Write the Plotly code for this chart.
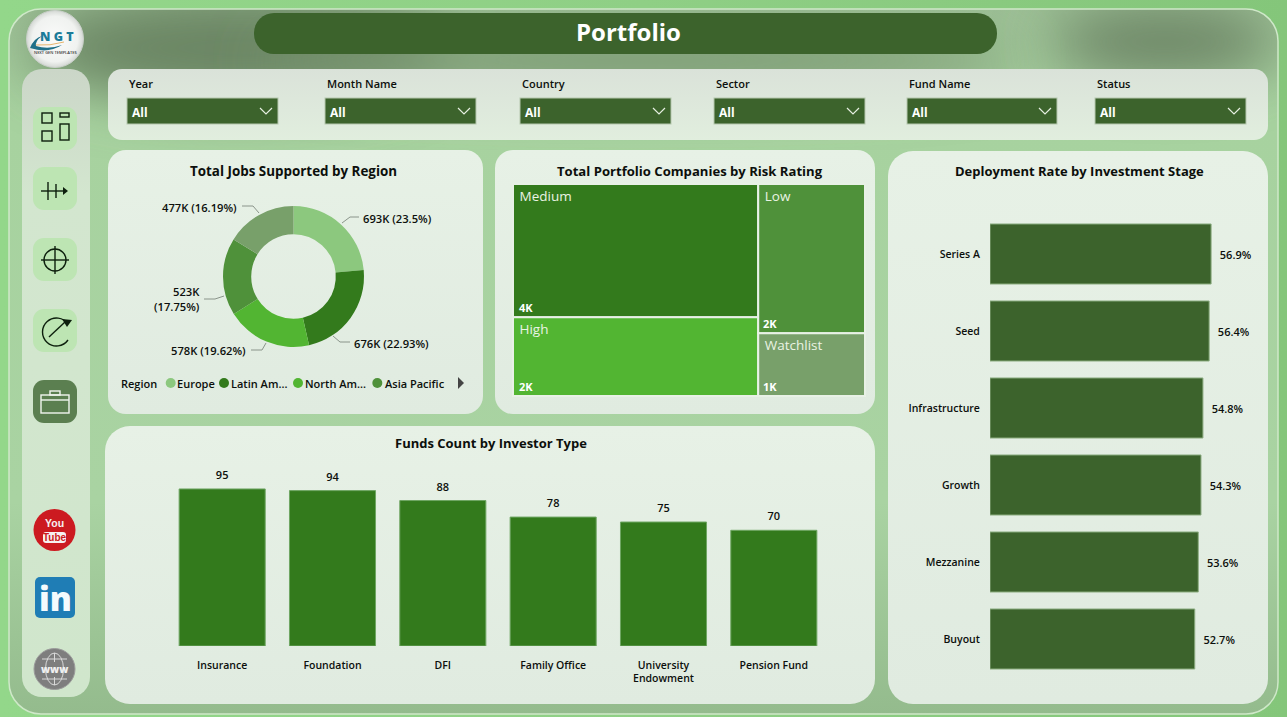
import base64
import plotly.graph_objects as go

# ---- dashboard data ----
regions = ["Europe", "Latin America", "North America", "Asia Pacific", "Middle East"]
jobs_k = [693, 676, 578, 523, 477]
jobs_share = ["23.5", "22.93", "19.62", "17.75", "16.19"]
region_colors = ["#8CC87E", "#337A1C", "#52B532", "#4F913A", "#78A06A"]

risk_ratings = ["Medium", "High", "Low", "Watchlist"]
risk_companies = [3900, 2300, 1900, 800]
risk_colors = ["#337A1C", "#52B532", "#4F913A", "#78A06A"]

investor_types = ["Insurance", "Foundation", "DFI", "Family Office", "University<br>Endowment", "Pension Fund"]
funds_count = [95, 94, 88, 78, 75, 70]

stages = ["Series A", "Seed", "Infrastructure", "Growth", "Mezzanine", "Buyout"]
deployment_rate = [56.9, 56.4, 54.8, 54.3, 53.6, 52.7]

filter_names = ["Year", "Month Name", "Country", "Sector", "Fund Name", "Status"]
filter_left = [127, 325, 520, 714, 907, 1095]
filter_right = [278, 476, 671, 865, 1057, 1246]

W, H = 1287, 717
FONT = "Open Sans"
INK = "#0c0f0c"
DARK = "#3C632C"
GREEN = "#337A1C"


def px(x):
    return x / W


def py(y):
    return 1 - y / H


def rrect(x0, y0, x1, y1, r, fill, extra=""):
    return f'<rect x="{x0}" y="{y0}" width="{x1-x0}" height="{y1-y0}" rx="{r}" ry="{r}" fill="{fill}" {extra}/>'


# ---- page backdrop, cards and sidebar glyphs ----
svg = [f'<svg xmlns="http://www.w3.org/2000/svg" width="{W}" height="{H}" viewBox="0 0 {W} {H}">']
svg.append('''<defs>
<linearGradient id="page" x1="0" y1="0" x2="1" y2="0"><stop offset="0" stop-color="#93D78A"/><stop offset="0.5" stop-color="#8FCF85"/><stop offset="1" stop-color="#84C67A"/></linearGradient>
<linearGradient id="inner" x1="0" y1="0" x2="0" y2="1"><stop offset="0" stop-color="#9DC096"/><stop offset="0.16" stop-color="#A7D29F"/><stop offset="0.7" stop-color="#A9D3A2"/><stop offset="1" stop-color="#94BB8D"/></linearGradient>
<linearGradient id="side" x1="0" y1="0" x2="0" y2="1"><stop offset="0" stop-color="#CBD6C8"/><stop offset="0.2" stop-color="#D3E6CF"/><stop offset="1" stop-color="#D0E6CC"/></linearGradient>
<linearGradient id="filt" x1="0" y1="0" x2="0" y2="1"><stop offset="0" stop-color="#DAE2D9"/><stop offset="1" stop-color="#E1EEDE"/></linearGradient>
<linearGradient id="card" x1="0" y1="0" x2="0" y2="1"><stop offset="0" stop-color="#E7F1E6"/><stop offset="1" stop-color="#E0EBE0"/></linearGradient>
<radialGradient id="logo" cx="0.5" cy="0.5" r="0.5"><stop offset="0" stop-color="#FAFBFA"/><stop offset="0.8" stop-color="#F0F2F0"/><stop offset="1" stop-color="#D4D8D4"/></radialGradient>
<filter id="soft" x="-50%" y="-100%" width="200%" height="300%"><feGaussianBlur stdDeviation="28"/></filter>
<clipPath id="frame"><rect x="9" y="9" width="1269" height="705" rx="32" ry="32"/></clipPath>
</defs>''')
svg.append(rrect(0, 0, W, H, 0, "url(#page)"))
svg.append(rrect(9, 9, 1278, 714, 32, "url(#inner)"))
svg.append('<g clip-path="url(#frame)">'
           '<ellipse cx="240" cy="48" rx="210" ry="55" fill="#6A8563" filter="url(#soft)"/>'
           '<ellipse cx="640" cy="60" rx="380" ry="30" fill="#7A9772" filter="url(#soft)"/>'
           '<ellipse cx="1165" cy="42" rx="115" ry="36" fill="#6C8465" filter="url(#soft)"/>'
           '</g>')
svg.append(rrect(9, 9, 1278, 714, 32, "none", 'stroke="#CFE8C9" stroke-width="1.5"'))
svg.append(rrect(22, 69, 90, 697, 20, "url(#side)"))
svg.append(rrect(108, 69, 1268, 140, 14, "url(#filt)"))
svg.append(rrect(108, 150, 483, 414, 18, "url(#card)"))
svg.append(rrect(495, 150, 875, 414, 18, "url(#card)"))
svg.append(rrect(105, 426, 875, 704, 25, "url(#card)"))
svg.append(rrect(888, 151, 1268, 704, 25, "url(#card)"))
svg.append(rrect(254, 13, 997, 54, 20, DARK))

# filter dropdown boxes with their chevrons
for x0, x1 in zip(filter_left, filter_right):
    svg.append(rrect(x0, 98, x1, 124, 0, DARK, 'stroke="#B5C7AE" stroke-width="1"'))
    svg.append(f'<path d="M{x1-18} 108 l6 6 l6 -6" fill="none" stroke="#E6EFE1" stroke-width="1.2"/>')

# donut leader lines
leaders = ["M342 223 L350 217 L359 217", "M333 336 L340 342 L350 342", "M266 343 L262 350 L251 350",
           "M224 296 L215 299 L204 299", "M259 213 L253 206 L242 206"]
for d in leaders:
    svg.append(f'<path d="{d}" fill="none" stroke="#8A948A" stroke-width="1"/>')

# region legend dots and paging arrow
for cx, colour in zip([170.7, 224, 298, 377.3], region_colors):
    svg.append(f'<circle cx="{cx}" cy="383" r="5" fill="{colour}"/>')
svg.append('<path d="M458 377 L464 383 L458 389 Z" fill="#444"/>')

# sidebar tiles
for i, y in enumerate([107, 167, 238, 309, 380]):
    svg.append(rrect(33, y, 77, y + 43, 11, "#5B7F50" if i == 4 else "#BDE5B3"))
ic = 'fill="none" stroke="#0D1F0D" stroke-width="1.4"'
svg.append(f'<g {ic}><rect x="42" y="113" width="10" height="10"/><rect x="42" y="131" width="10" height="10"/>'
           '<rect x="60" y="113" width="9" height="4"/><rect x="60" y="124" width="9" height="16"/></g>')
svg.append(f'<g {ic}><path d="M41 191 H65"/><path d="M48 182 V200"/><path d="M56 184 V198"/></g>'
           '<path d="M63 187 L68 191 L63 195 Z" fill="#0D1F0D"/>')
svg.append(f'<g {ic}><circle cx="55" cy="260" r="11"/><path d="M41 260 H69"/><path d="M55 246 V274"/></g>')
svg.append(f'<g {ic}><path d="M68 324 A14 14 0 1 0 68 340"/><path d="M49 337 L65 322"/></g>'
           '<path d="M62 319 L72 320 L67 327 Z" fill="#0D1F0D"/>')
svg.append('<g fill="none" stroke="#F1F6EF" stroke-width="1.4"><rect x="41" y="395" width="28" height="18"/>'
           '<path d="M41 400 H69"/><rect x="50" y="391" width="10" height="4"/></g>')

# logo disc and swoosh
svg.append('<circle cx="55" cy="39" r="28.5" fill="url(#logo)" stroke="#C8CFC8" stroke-width="1"/>')
svg.append('<path d="M30 48 Q34 38 42 36 Q35 41 36 46 Q48 50 62 45 Q48 54 30 48 Z" fill="#1F6F88"/>')
svg.append('<path d="M36 45 Q50 46 64 42" fill="none" stroke="#E2A24A" stroke-width="0.8"/>')

# social badges
svg.append('<circle cx="54.5" cy="530" r="21" fill="#CC1A20"/>')
svg.append(rrect(43, 532, 66, 543, 3, "#F6F0F0"))
svg.append(rrect(35, 577, 75, 618, 5, "#1F7DB5"))
svg.append('<circle cx="54.5" cy="669" r="20.5" fill="#7E7E7E" stroke="#9B9B9B" stroke-width="1"/>')
svg.append('<g fill="none" stroke="#D9D9D9" stroke-width="1"><ellipse cx="54.5" cy="669" rx="9" ry="16"/>'
           '<path d="M54.5 653 V662"/><path d="M54.5 677 V685"/><path d="M42 659 H67"/><path d="M42 679 H67"/></g>')
svg.append("</svg>")
backdrop = "data:image/svg+xml;base64," + base64.b64encode("".join(svg).encode()).decode()

# ---- annotations ----
notes = []


def label(x, y, text, size=11, anchor="left", color=INK, weight=600, family=FONT):
    # annotation boxes add two pixels of padding on each side
    nudge = {"left": -2, "right": 2, "center": 0}[anchor]
    notes.append(dict(x=px(x + nudge), y=py(y), xref="paper", yref="paper", text=text, showarrow=False,
                      xanchor=anchor, yanchor="middle", align=anchor,
                      font=dict(family=family, size=size, color=color, weight=weight)))


label(628, 31, "Portfolio", size=24, anchor="center", color="#FFFFFF", weight=700)
for name, x0 in zip(filter_names, filter_left):
    label(x0 + 2, 84, name, size=11)
    label(x0 + 5, 112.5, "All", size=12, color="#FFFFFF", weight=700)

label(293.5, 171, "Total Jobs Supported by Region", size=13.4, anchor="center", weight=700)
label(689.5, 171, "Total Portfolio Companies by Risk Rating", size=13.1, anchor="center", weight=700)
label(491, 443, "Funds Count by Investor Type", size=13, anchor="center", weight=700)
label(1079.5, 171, "Deployment Rate by Investment Stage", size=13, anchor="center", weight=700)

# donut value labels
donut_text = [f"{k}K ({s}%)" for k, s in zip(jobs_k, jobs_share)]
label(363, 218, donut_text[0], size=11.2)
label(354, 343, donut_text[1], size=11.2)
label(246, 350, donut_text[2], size=11.2, anchor="right")
label(200, 299, f"{jobs_k[3]}K<br>({jobs_share[3]}%)", size=11.2, anchor="right")
label(237, 207, donut_text[4], size=11.2, anchor="right")

# legend entries
label(121, 383, "Region", size=11)
label(177, 383, regions[0], size=11)
label(231, 383, "Latin Am...", size=11)
label(305, 383, "North Am...", size=11)
label(385, 383, regions[3], size=11)

# treemap value captions sit on the bottom edge of each tile
for v, (x, y) in zip(risk_companies, [(519, 308), (519, 387), (763, 324), (763, 387)]):
    label(x, y - 0.5, f"{round(v / 1000)}K", size=11, color="#FFFFFF", weight=700)

# brand marks
label(57, 37, "N G T", size=12.5, anchor="center", color="#1C7C99", weight=800)
label(55, 52.5, "NEXT GEN TEMPLATES", size=4, anchor="center", color="#333333")
label(54.5, 523, "You", size=10.5, anchor="center", color="#F6F0F0", weight=700, family="Liberation Sans")
label(54.5, 537.5, "Tube", size=10, anchor="center", color="#CC1A20", weight=700, family="Liberation Sans")
label(55, 598, "in", size=33, anchor="center", color="#F4FAFD", weight=800)
label(54.5, 669, "www", size=10, anchor="center", color="#F0F0F0", weight=800)

# ---- charts ----
fig = go.Figure()

fig.add_trace(go.Pie(
    labels=regions, values=jobs_k, hole=0.6, sort=False, direction="clockwise", rotation=0,
    textinfo="none", showlegend=False,
    marker=dict(colors=region_colors, line=dict(width=0)),
    domain=dict(x=[px(223), px(364)], y=[py(347), py(206)]),
))

fig.add_trace(go.Treemap(
    labels=risk_ratings, parents=[""] * len(risk_ratings), values=risk_companies,
    texttemplate=" %{label}", textposition="top left",
    textfont=dict(family=FONT, size=13.5, color="#EAF3E4"),
    marker=dict(colors=risk_colors, line=dict(width=2, color="#E8F1E6"), pad=dict(t=0, l=0, r=0, b=0)),
    tiling=dict(packing="squarify", squarifyratio=2, pad=0),
    pathbar=dict(visible=False),
    domain=dict(x=[px(513), px(865)], y=[py(396), py(184)]),
))

fig.add_trace(go.Bar(
    x=investor_types, y=funds_count, cliponaxis=False,
    marker=dict(color=GREEN, line=dict(color="#6FA663", width=1)),
    xaxis="x", yaxis="y", showlegend=False,
))

# count labels ride on an invisible marker so they clear the bar tops
fig.add_trace(go.Scatter(
    x=investor_types, y=funds_count, mode="markers+text", text=funds_count, textposition="top center",
    marker=dict(size=10, opacity=0), cliponaxis=False,
    textfont=dict(family=FONT, size=11, color=INK, weight=600),
    xaxis="x", yaxis="y", showlegend=False,
))

fig.add_trace(go.Bar(
    y=stages, x=deployment_rate, orientation="h", width=0.78,
    text=[f"  {v}%" for v in deployment_rate], textposition="outside", cliponaxis=False,
    textfont=dict(family=FONT, size=11, color=INK, weight=600),
    marker=dict(color=DARK, line=dict(color="#8DAE82", width=1)),
    xaxis="x2", yaxis="y2", showlegend=False,
))

tick_font = dict(family=FONT, size=10.5, color=INK, weight=600)
fig.update_layout(
    width=W, height=H, margin=dict(l=0, r=0, t=0, b=0),
    paper_bgcolor="#8FCF85", plot_bgcolor="rgba(0,0,0,0)",
    bargap=0.22, annotations=notes,
    images=[dict(source=backdrop, xref="paper", yref="paper", x=0, y=1, sizex=1, sizey=1,
                 sizing="stretch", xanchor="left", yanchor="top", layer="below")],
    xaxis=dict(domain=[px(167), px(829)], anchor="y", showgrid=False, zeroline=False, showline=False,
               ticks="outside", ticklen=9, tickcolor="rgba(0,0,0,0)", tickfont=tick_font,
               categoryorder="array", categoryarray=investor_types, tickangle=0),
    yaxis=dict(domain=[py(646), py(480.7)], anchor="x", range=[0, 100], visible=False),
    xaxis2=dict(domain=[px(990), px(1262)], anchor="y2", range=[0, 70], visible=False),
    yaxis2=dict(domain=[py(677.5), py(215.5)], anchor="x2", autorange="reversed", showgrid=False,
                zeroline=False, showline=False, ticks="outside", ticklen=7,
                tickcolor="rgba(0,0,0,0)", tickfont=tick_font),
    font=dict(family=FONT),
)

fig.write_html("out.html")
